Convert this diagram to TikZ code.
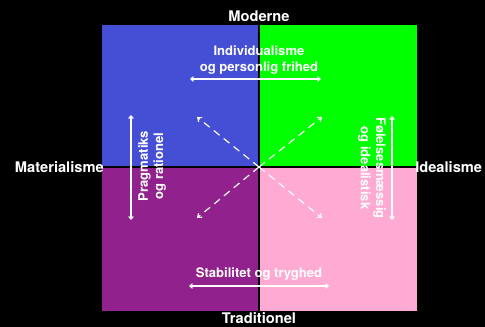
\documentclass[tikz,border=0pt]{standalone}
\usepackage{fontspec}
\setmainfont{TeX Gyre Heros}
\usetikzlibrary{arrows.meta}

\definecolor{kvblue}{RGB}{68,79,214}
\definecolor{kvgreen}{RGB}{0,255,0}
\definecolor{kvpurple}{RGB}{145,33,140}
\definecolor{kvpink}{RGB}{255,170,210}

\tikzset{
  axislabel/.style={text=white,font=\bfseries\fontsize{11}{12}\selectfont,inner sep=0pt},
  valuelabel/.style={text=white,font=\bfseries\fontsize{9.8}{11.5}\selectfont,align=center,inner sep=0pt},
  valuearrow/.style={white,line width=0.8pt,{Straight Barb[length=2pt,width=3.5pt]}-{Straight Barb[length=2pt,width=3.5pt]}},
  diagarrow/.style={white,line width=0.9pt,dash pattern=on 5.5pt off 4pt,-{Straight Barb[length=2.5pt,width=4pt]}}
}

\begin{document}
\begin{tikzpicture}[x=0.75pt,y=-0.75pt]
   \fill[black] (0,0) rectangle (485,327);
   \fill[kvblue] (102,25) rectangle (259,167);
   \fill[kvgreen] (259,25) rectangle (417,167);
   \fill[kvpurple] (102,167) rectangle (259,311);
   \fill[kvpink] (259,167) rectangle (417,311);
   \draw[black,line width=1pt] (259,25) -- (259,311);
   \draw[black,line width=1pt] (102,167) -- (417,167);
   % axis names
   \node[axislabel] (moderne) at (259,16) {Moderne};
   \node[axislabel] (trad) at (259,318) {Traditionel};
   \node[axislabel,anchor=east] (mat) at (104,167) {Materialisme};
   \node[axislabel,anchor=west] (ideal) at (415,167) {Idealisme};
   % values
   \node[valuelabel] (indiv) at (259,60) {Individualisme\\og personlig frihed};
   \node[valuelabel] (stab) at (259,274) {Stabilitet og tryghed};
   \node[valuelabel,rotate=90] (prag) at (152,166) {Pragmatiks\\og rationel};
   \node[valuelabel,rotate=-90] (foel) at (372,168) {Følelsesmæssig\\og idealistisk};
   \coordinate (c) at (259,167);
   \coordinate (t1) at (190,79);
   \coordinate (t2) at (321,79);
   \coordinate (b1) at (189,286);
   \coordinate (b2) at (329,286);
   \coordinate (l1) at (131,115);
   \coordinate (l2) at (131,220);
   \coordinate (r1) at (392,116);
   \coordinate (r2) at (392,220);
   \draw[valuearrow] (t1) -- (t2);
   \draw[valuearrow] (b1) -- (b2);
   \draw[valuearrow] (l1) -- (l2);
   \draw[valuearrow] (r1) -- (r2);
   % dashed arrows from the middle
   \coordinate (ul) at (197,117);
   \coordinate (ur) at (322,117);
   \coordinate (lr) at (322,218);
   \coordinate (ll) at (197,218);
   \draw[diagarrow] (c) -- (ul);
   \draw[diagarrow] (c) -- (ur);
   \draw[diagarrow] (c) -- (lr);
   \draw[diagarrow] (c) -- (ll);
\end{tikzpicture}
\end{document}
